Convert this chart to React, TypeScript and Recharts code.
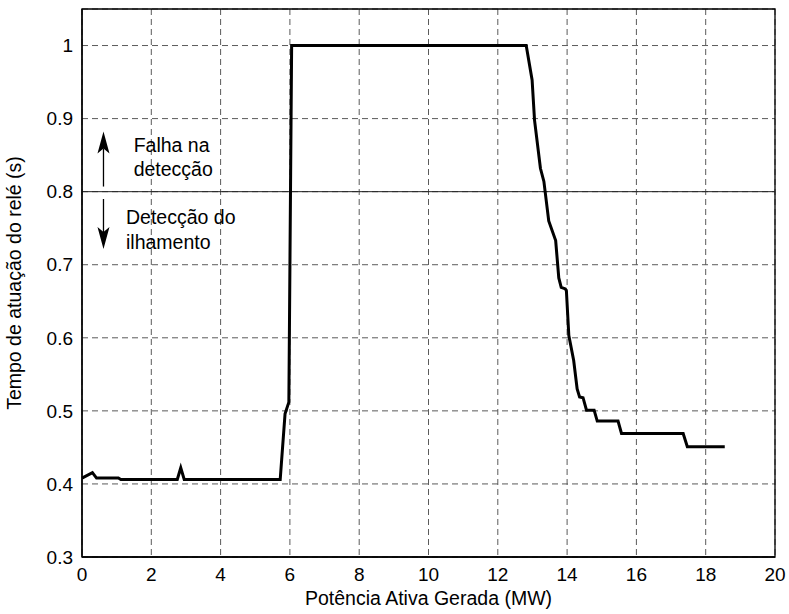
import React from 'react';
import {
  LineChart, Line, XAxis, YAxis, CartesianGrid, ReferenceLine, ReferenceArea, ReferenceDot, Label,
} from 'recharts';

const powerMW = [0, 0.3, 0.42, 1.05, 1.12, 2.75, 2.85, 2.95, 5.72, 5.86, 5.97, 6.05, 12.82, 12.99, 13.06, 13.23, 13.33, 13.47, 13.67, 13.76, 13.83, 13.95, 13.98, 14.05, 14.19, 14.29, 14.36, 14.46, 14.56, 14.78, 14.87, 15.47, 15.57, 17.35, 17.47, 18.55];
const relayTime = [0.408, 0.4155, 0.408, 0.408, 0.406, 0.406, 0.422, 0.406, 0.406, 0.496, 0.512, 1.0, 1.0, 0.953, 0.898, 0.832, 0.814, 0.76, 0.733, 0.682, 0.669, 0.667, 0.664, 0.603, 0.569, 0.53, 0.519, 0.518, 0.501, 0.501, 0.486, 0.486, 0.469, 0.469, 0.451, 0.451];

const xTicks = [0, 2, 4, 6, 8, 10, 12, 14, 16, 18, 20];
const yTicks = [0.3, 0.4, 0.5, 0.6, 0.7, 0.8, 0.9, 1.0];

const xLabel = 'Potência Ativa Gerada (MW)';
const yLabel = 'Tempo de atuação do relé (s)';

const annotations = [
  { x: 1.49, y: 0.854, text: 'Falha na' },
  { x: 1.49, y: 0.821, text: 'detecção' },
  { x: 1.27, y: 0.756, text: 'Detecção do' },
  { x: 1.27, y: 0.722, text: 'ilhamento' },
];
const arrowUp = [{ x: 0.62, y: 0.807 }, { x: 0.62, y: 0.8825 }];
const arrowDown = [{ x: 0.62, y: 0.79 }, { x: 0.62, y: 0.7215 }];

const data = powerMW.map((p, i) => ({ p, t: relayTime[i] }));

const FONT = '"Liberation Sans", Arial, sans-serif';

const Arrow = (props: any) => {
  const { x1, y1, x2, y2 } = props;
  const dir = y2 < y1 ? 1 : -1;
  const headLen = 22;
  const halfW = 6;
  const base = y2 + dir * headLen;
  const notch = y2 + dir * (headLen - 5);
  return (
    <g>
      <line x1={x1} y1={y1} x2={x2} y2={notch} stroke="#000" strokeWidth={1.3} />
      <polygon
        points={`${x2},${y2} ${x2 + halfW},${base} ${x2},${notch} ${x2 - halfW},${base}`}
        fill="#000"
      />
    </g>
  );
};

export default function App() {
  return (
    <div style={{ position: 'absolute', left: 0, top: 0, background: '#fff' }}>
      <LineChart
        width={789}
        height={614}
        data={data}
        margin={{ top: 9, right: 14, bottom: 0, left: 0 }}
        style={{ fontFamily: FONT }}
      >
        <CartesianGrid stroke="#5a5a5a" strokeDasharray="6 4" strokeWidth={1} />
        <ReferenceLine y={0.8} stroke="#222" strokeWidth={1} />
        <XAxis
          dataKey="p"
          type="number"
          domain={[0, 20]}
          ticks={xTicks}
          height={57}
          axisLine={{ stroke: '#000', strokeWidth: 1.3 }}
          tickLine={false}
          tickSize={0}
          tickMargin={11}
          tick={{ fill: '#000', fontSize: 19, fontFamily: FONT }}
        >
          <Label
            content={() => (
              <text
                x={428.5}
                y={605}
                textAnchor="middle"
                fontSize={19.5}
                fontFamily={FONT}
                fill="#000"
              >
                {xLabel}
              </text>
            )}
          />
        </XAxis>
        <YAxis
          type="number"
          domain={[0.3, 1.05]}
          ticks={yTicks}
          width={82}
          axisLine={{ stroke: '#000', strokeWidth: 1.3 }}
          tickLine={false}
          tickSize={0}
          tickMargin={9}
          tickFormatter={(v: number) => (v === 1 ? '1' : v.toFixed(1))}
          tick={{ fill: '#000', fontSize: 19, fontFamily: FONT }}
        >
          <Label
            content={() => {
              const cx = 21;
              const cy = 283;
              return (
                <text
                  x={cx}
                  y={cy}
                  transform={`rotate(-90 ${cx} ${cy})`}
                  textAnchor="middle"
                  fontSize={19.5}
                  fontFamily={FONT}
                  fill="#000"
                >
                  {yLabel}
                </text>
              );
            }}
          />
        </YAxis>
        <ReferenceArea x1={0} x2={20} y1={0.3} y2={1.05} fill="none" stroke="#000" strokeWidth={1.3} ifOverflow="visible" />
        <ReferenceLine segment={arrowUp} shape={Arrow} ifOverflow="visible" />
        <ReferenceLine segment={arrowDown} shape={Arrow} ifOverflow="visible" />
        {annotations.map((a, i) => (
          <ReferenceDot
            key={i}
            x={a.x}
            y={a.y}
            r={0}
            ifOverflow="visible"
            shape={(props: any) => (
              <text x={props.cx} y={props.cy} fontSize={19.5} fontFamily={FONT} fill="#000">
                {a.text}
              </text>
            )}
          />
        ))}
        <Line
          type="linear"
          dataKey="t"
          stroke="#000"
          strokeWidth={3}
          dot={false}
          isAnimationActive={false}
        />
      </LineChart>
    </div>
  );
}
